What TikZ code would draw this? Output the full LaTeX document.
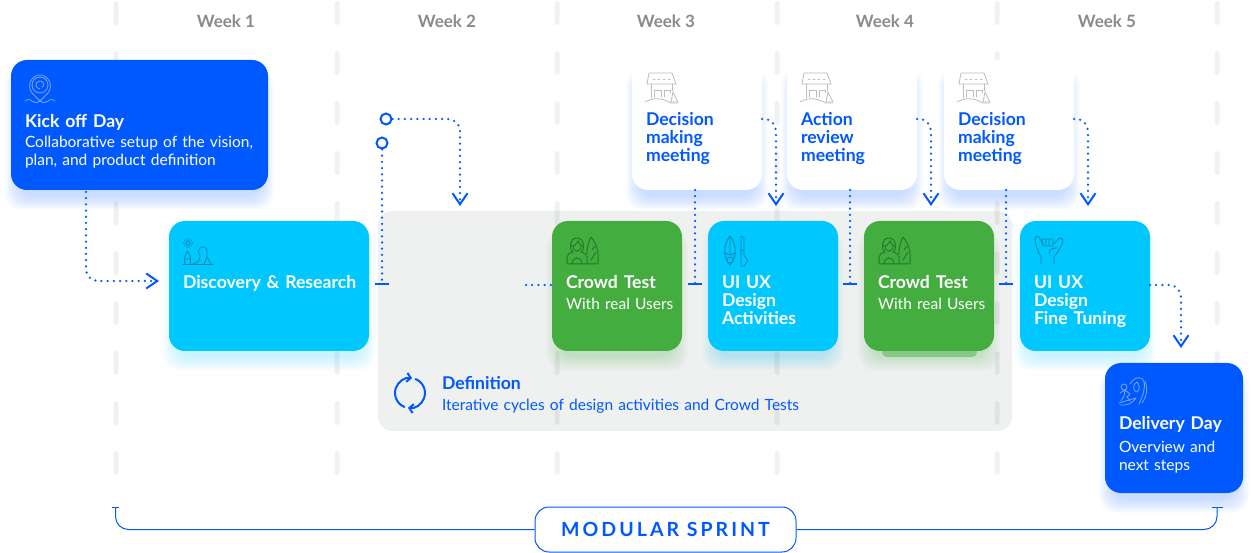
\documentclass[tikz,border=0pt]{standalone}
\usepackage{fontspec}
\usepackage{xcolor}
\usepackage{tikz}
\usetikzlibrary{arrows.meta, positioning, backgrounds, calc}
\setmainfont{Lato}
\definecolor{bluea}{HTML}{0059FF}
\definecolor{skya}{HTML}{00C8FF}
\definecolor{greena}{HTML}{44AD3F}
\definecolor{panelc}{HTML}{EFF1F0}
\definecolor{weekc}{HTML}{8A8A8A}
\definecolor{hutc}{HTML}{BDBDBD}
\definecolor{tealc}{HTML}{0A86B0}
\definecolor{leafc}{HTML}{257A2C}
\definecolor{pinc}{HTML}{7AA5FF}
\newcommand{\softglow}[2]{%
  \foreach \g in {0,1,...,14}{%
    \fill[#2, opacity=0.016, rounded corners=16pt]
      ($(#1.south west)+(8-\g,6+\g)$) rectangle ($(#1.north east)+(-8+\g,22-\g)$);
  }%
}
\tikzset{
  chev/.tip={Straight Barb[length=11pt, width=15pt, line width=2pt]},
  stubbar/.tip={Bar[width=14pt, line width=2pt]},
  cardbox/.style={rectangle, rounded corners=16pt, draw=none, outer sep=0pt, inner sep=0pt,
                  minimum width=130pt, minimum height=130pt},
  bluebox/.style={cardbox, fill=bluea},
  skybox/.style={cardbox, fill=skya},
  greenbox/.style={cardbox, fill=greena},
  meetbox/.style={cardbox, fill=white},
  labeltext/.style={anchor=base west, inner sep=0pt, outer sep=0pt, text width=240pt, align=left, yshift=-1pt},
  headtext/.style={labeltext, font=\fontsize{17.6}{18}\selectfont\bfseries, text=white},
  bodytext/.style={labeltext, font=\fontsize{15.5}{18}\selectfont, text=white},
  meethead/.style={headtext, text=bluea},
  weektext/.style={font=\fontsize{17}{18}\selectfont\bfseries, text=weekc, anchor=base, inner sep=0pt},
  dotline/.style={draw=bluea, line width=2.5pt, line cap=round, dash pattern=on 0pt off 6.2pt,
                  rounded corners=12pt},
  stubline/.style={dotline, -stubbar},
  turnline/.style={dotline, -chev},
  ringdot/.style={circle, draw=bluea, line width=2pt, fill=white, inner sep=0pt, minimum size=11pt},
  iconline/.style={line width=0.8pt, line cap=round, line join=round},
  hut/.pic={
    \draw[iconline, hutc] (9,7) -- (32,7) -- (36,18) -- (7,18) -- cycle;
    \draw[iconline, hutc] (11,18) -- (11,32) (32,18) -- (32,25) (14,31) -- (14,24) -- (21,24) -- (21,31)
      (24,31) -- (24,24) -- (30,24) -- (30,27);
    \draw[iconline, hutc, dash pattern=on 2pt off 3pt] (13,13) -- (31,13);
    \draw[iconline, hutc] (5,36) .. controls (12,32) and (20,31) .. (31,37) -- (38,37);
    \draw[iconline, hutc] (33,26) -- (38,36) -- (31,36) -- cycle;
  },
  crowdicon/.pic={
    \begin{scope}[line width=1pt, leafc]
    \draw[line join=round] (7,34) -- (7,27) .. controls (7,24) and (10,23) .. (13,22)
      .. controls (9,20) and (9,8) .. (17,8) .. controls (25,8) and (25,20) .. (21,22)
      .. controls (24,23) and (27,24) .. (27,27) -- (27,34) -- cycle;
    \draw (11,16) .. controls (15,16) and (17,14) .. (18,11) .. controls (19,14) and (21,16) .. (23,16);
    \draw (13,16) .. controls (13,23) and (21,23) .. (21,16);
    \draw (12,34) .. controls (12,26) and (22,26) .. (22,34);
    \draw[line join=round] (27,24) .. controls (27,16) and (29,11) .. (31,7) .. controls (35,12) and (38,18) .. (38,24) -- (38,34) -- (27,34);
    \draw (31,30) -- (36,22) (32,20) -- (35,16);
    \end{scope}
  },
  boardicon/.pic={
    \draw[iconline, tealc] (15,6) .. controls (9,14) and (7,26) .. (15,35) .. controls (23,26) and (21,14) .. (15,6) -- cycle;
    \draw[iconline, tealc] (15,6) -- (15,25) (9,23) -- (15,25) -- (21,23);
    \draw[iconline, tealc] (15,30) circle (3);
    \draw[iconline, tealc] (26,6) -- (26,36) -- (29,36) .. controls (30,34) and (32,32) .. (33,31) -- (29,25) -- (29,8) -- cycle;
    \draw[iconline, tealc] (26,20) -- (29,20);
  },
  shakaicon/.pic={
    \draw[iconline, tealc] (13,34) -- (13,27) .. controls (10,22) and (7,14) .. (7,9)
      .. controls (8,5) and (11,6) .. (12,9) -- (15,14);
    \draw[iconline, tealc] (15,9) -- (24,9) (15,16) -- (24,16) (14,9) -- (15,16) (18,9) -- (18,16) (21,9) -- (21,16) (25,9) -- (25,16);
    \draw[iconline, tealc] (25,14) .. controls (28,13) and (30,8) .. (33,8) .. controls (36,9) and (35,13) .. (33,16)
      .. controls (31,21) and (28,24) .. (26,27) -- (26,34);
    \draw[iconline, tealc] (21,24) .. controls (21,19) and (25,18) .. (29,18);
  },
  surfericon/.pic={
    \draw[iconline, pinc] (7,31) -- (24,26) (8,33) .. controls (15,34) and (21,31) .. (24,26);
    \draw[iconline, pinc] (12,15) circle (3);
    \draw[iconline, pinc] (8,21) -- (13,18) -- (18,22) -- (15,25) -- (18,29) (13,18) -- (12,24) -- (9,29);
    \draw[iconline, pinc] (18,12) .. controls (21,7) and (25,5) .. (28,6) .. controls (35,7) and (33,20) .. (27,32);
    \draw[iconline, pinc] (25,10) .. controls (20,12) and (21,20) .. (25,20) .. controls (28,18) and (28,13) .. (25,10);
    \draw[iconline, pinc] (33,9) .. controls (36,16) and (35,24) .. (30,31);
  },
  pinicon/.pic={
    \draw[iconline, pinc] (15,27) -- (7,19) .. controls (1,11) and (7,1) .. (15,1) .. controls (23,1) and (29,11) .. (23,19) -- cycle;
    \draw[iconline, pinc] (15,11) circle (8);
    \draw[iconline, pinc] (15,15) .. controls (10,15) and (9,7) .. (15,7) .. controls (19,7) and (20,12) .. (17,13);
    \draw[iconline, pinc] (0,27) .. controls (3,25) and (4,25) .. (7,27) .. controls (10,29) and (12,29) .. (15,27)
      .. controls (18,29) and (20,29) .. (23,27) .. controls (26,25) and (27,25) .. (30,27);
  },
  waveicon/.pic={
    \draw[iconline, tealc] (0,32) -- (30,32);
    \draw[iconline, tealc] (5,11) circle (2.2);
    \draw[iconline, tealc, dash pattern=on 1pt off 1.6pt] (5,11) circle (4.4);
    \draw[iconline, tealc] (4.5,19) .. controls (1,24) and (1,28) .. (2,32) (4.5,19) .. controls (8,24) and (8,28) .. (7,32) (1.5,27) -- (7.5,27);
    \draw[iconline, tealc] (10,32) .. controls (16,31) and (19,25) .. (16,21) .. controls (14,18) and (18,14) .. (21,15) .. controls (25,16) and (24,21) .. (24,25);
    \draw[iconline, tealc] (24,25) -- (21,32) (24,25) -- (28,32);
  },
}
\begin{document}
\begin{tikzpicture}[x=1pt, y=-1pt]
  \useasboundingbox (0,0) rectangle (1254,553);

  \node[bluebox, minimum width=257pt] (kick) at (139.5,125) {};
  \node[skybox, minimum width=200pt] (disc) at (269,286) {};
  \node[greenbox] (crowda) at (617,286) {};
  \node[skybox, right=26pt of crowda] (uia) {};
  \node[greenbox, right=26pt of uia] (crowdb) {};
  \node[skybox, right=26pt of crowdb] (uib) {};
  \node[meetbox] (meeta) at (697,125) {};
  \node[meetbox, right=25pt of meeta] (acta) {};
  \node[meetbox, right=27pt of acta] (meetb) {};
  \node[bluebox, minimum width=138pt] (deliv) at (1174,428) {};

  \begin{scope}[on background layer]
    \node[rectangle, rounded corners=14pt, fill=panelc, minimum width=634pt, minimum height=220pt,
          inner sep=0pt] (defpanel) at (695,321) {};
    \foreach \wx in {116,337,557,777,997,1217}
      \foreach \wy in {1,51,...,451}
        \fill[black, opacity=0.055, rounded corners=2.5pt] (\wx-2.5,\wy) rectangle (\wx+2.5,\wy+24);
    \softglow{disc}{skya}
    \softglow{crowda}{greena}
    \softglow{uia}{skya}
    \softglow{crowdb}{greena}
    \softglow{uib}{skya}
    \softglow{kick}{bluea}
    \softglow{meeta}{bluea}
    \softglow{acta}{bluea}
    \softglow{meetb}{bluea}
    \softglow{deliv}{bluea}
    \fill[greena!60!panelc, rounded corners=5pt] (882,340) rectangle (977,357);
  \end{scope}

  \node[weektext] (wk1) at (226,27.5) {Week 1};
  \node[weektext] (wk2) at (447,27.5) {Week 2};
  \node[weektext] (wk3) at (666,27.5) {Week 3};
  \node[weektext] (wk4) at (885,27.5) {Week 4};
  \node[weektext] (wk5) at (1107,27.5) {Week 5};

  \node[headtext] (kicktitle) at (25,127) {Kick off Day};
  \node[bodytext] (kicktext) at (25,147) {Collaborative setup of the vision,\\plan, and product definition};
  \node[headtext] (disctitle) at (183,288) {Discovery \& Research};
  \node[headtext] (crowdatitle) at (566,288) {Crowd Test};
  \node[bodytext] (crowdatext) at (566,309) {With real Users};
  \node[headtext] (uiatitle) at (722,288) {UI UX\\Design\\Activities};
  \node[headtext] (crowdbtitle) at (878,288) {Crowd Test};
  \node[bodytext] (crowdbtext) at (878,309) {With real Users};
  \node[headtext] (uibtitle) at (1034,288) {UI UX\\Design\\Fine Tuning};
  \node[meethead] (meetatitle) at (646,125) {Decision\\making\\meeting};
  \node[meethead] (actatitle) at (801,125) {Action\\review\\meeting};
  \node[meethead] (meetbtitle) at (958,125) {Decision\\making\\meeting};
  \node[headtext] (delivtitle) at (1119,429) {Delivery Day};
  \node[bodytext] (delivtext) at (1119,452) {Overview and\\next steps};
  \node[meethead] (deftitle) at (442,389) {Definition};
  \node[bodytext, text=bluea, text width=400pt] (deftext) at (442,410) {Iterative cycles of design activities and Crowd Tests};

  \pic at (25,74) {pinicon};
  \pic at (183,232) {waveicon};
  \pic at (560,230) {crowdicon};
  \pic at (715,230) {boardicon};
  \pic at (872,230) {crowdicon};
  \pic at (1028,230) {shakaicon};
  \pic at (640,66) {hut};
  \pic at (795,66) {hut};
  \pic at (952,66) {hut};
  \pic at (1112,372) {surfericon};

  \draw[draw=bluea, line width=2pt, -{Straight Barb[length=4pt, width=9pt, line width=2pt]}] (410,393) ++(-70:15) arc (-70:98:15);
  \draw[draw=bluea, line width=2pt, -{Straight Barb[length=4pt, width=9pt, line width=2pt]}] (410,393) ++(110:15) arc (110:278:15);

  \node[ringdot] (ringa) at (382,143) {};
  \node[ringdot] (ringb) at (386,119) {};
  \coordinate (stuba) at (382,285);
  \coordinate (stubb) at (695,285);
  \coordinate (stubc) at (850,285);
  \coordinate (stubd) at (1006,285);
  \coordinate (tipa) at (460,206);
  \coordinate (tipb) at (776,206);
  \coordinate (tipc) at (931,206);
  \coordinate (tipd) at (1088,206);
  \coordinate (tipe) at (1181,348);
  \coordinate (tipf) at (159,281);
  \coordinate (enda) at (526,285);

  \draw[turnline] (86,192) |- (tipf);
  \draw[stubline] (ringa) -- (stuba);
  \draw[turnline] (ringb) -| (tipa);
  \draw[dotline] (enda) -- (crowda.west |- enda);
  \draw[stubline] (stubb |- meeta.south) -- (stubb);
  \draw[stubline] (stubc |- acta.south) -- (stubc);
  \draw[stubline] (stubd |- meetb.south) -- (stubd);
  \draw[turnline] (meeta.east |- ringb) -| (tipb);
  \draw[turnline] (acta.east |- ringb) -| (tipc);
  \draw[turnline] (meetb.east |- ringb) -| (tipd);
  \draw[turnline] (uib.east |- stuba) -| (tipe);

  \node[rectangle, rounded corners=14pt, draw=bluea, line width=1pt, fill=white, minimum width=261pt,
        minimum height=45pt, text=bluea, font=\fontsize{19.5}{20}\selectfont\bfseries\addfontfeatures{LetterSpace=15.5}] (sprint) at (665.5,529.5) {\raisebox{-3pt}{MODULAR SPRINT}};
  \coordinate (sprintl) at (115.5,507);
  \coordinate (sprintr) at (1217,507);
  \draw[draw=bluea, line width=1pt, rounded corners=13pt, {Bar[width=7pt, line width=1pt]}-] (sprintl) |- (sprint.west);
  \draw[draw=bluea, line width=1pt, rounded corners=13pt, {Bar[width=11pt, line width=1pt]}-] (sprintr) |- (sprint.east);
\end{tikzpicture}
\end{document}
